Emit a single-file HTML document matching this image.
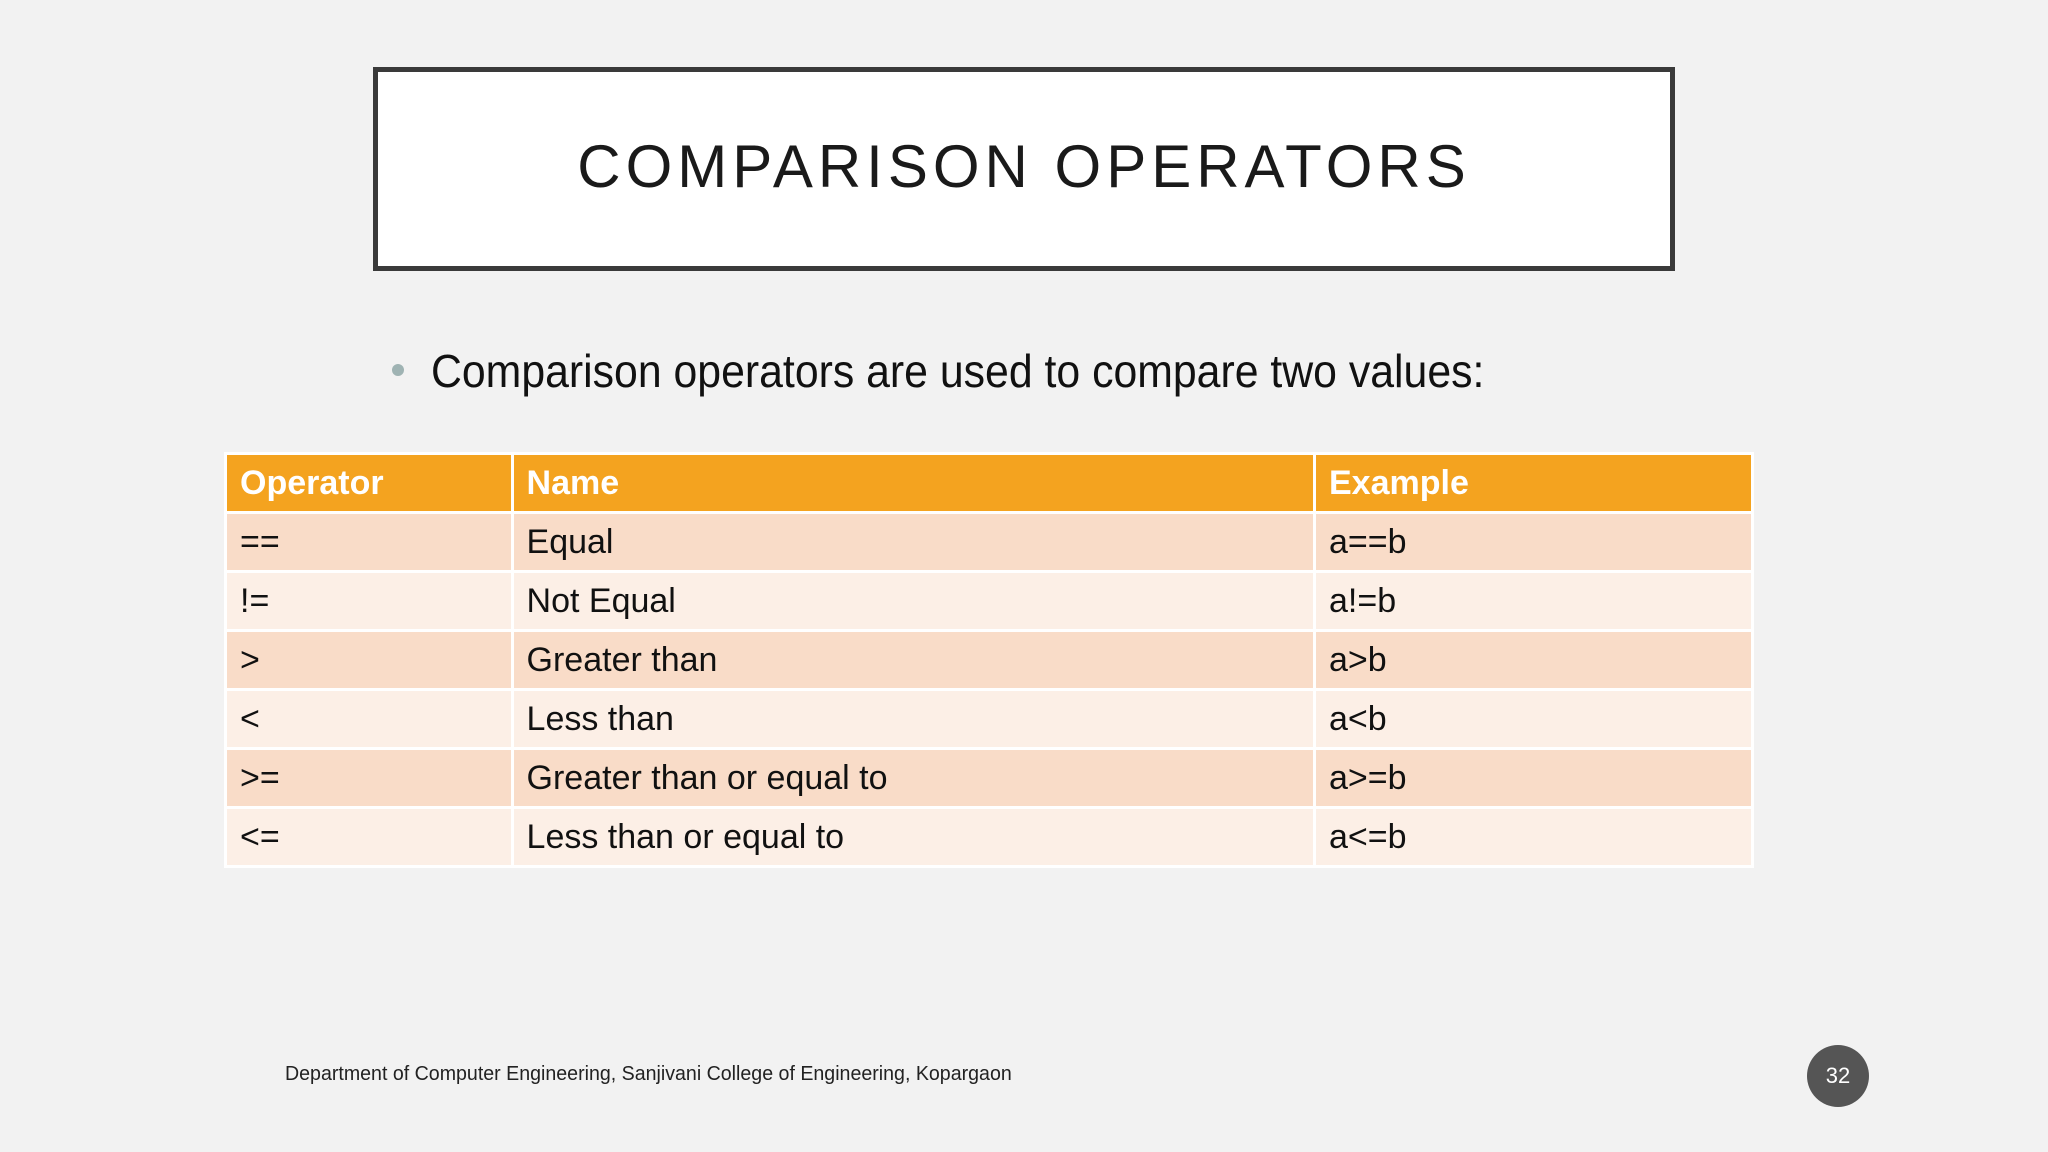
<!DOCTYPE html>
<html><head><meta charset="utf-8"><style>
body{margin:0;width:2048px;height:1152px;background:#f2f2f2;position:relative;overflow:hidden;font-family:"Liberation Sans",sans-serif;color:#111}
.abs{position:absolute}
#title-box{left:373px;top:67px;width:1292px;height:194px;border:5px solid #3a3a3a;background:#fff}
#title{left:373px;top:132px;width:1302px;text-align:center;font-size:60px;letter-spacing:5px;line-height:70px;color:#1a1a1a}
#bullet-dot{left:392px;top:364px;width:12px;height:12px;border-radius:50%;background:#9fb3b3}
#bullet{left:431px;top:343px;font-size:46px;line-height:56px;white-space:nowrap;transform-origin:0 0;transform:scaleX(0.93)}
table{position:absolute;left:224px;top:452px;border-collapse:collapse;width:1530px}
td,th{border:3px solid #fff;height:56px;padding:0 0 0 13px;text-align:left;font-size:34px;white-space:nowrap}
th{background:#f4a31f;color:#fff;font-weight:bold;height:56px}
tr.o td{background:#f9dcc8}
tr.e td{background:#fcefe6}
#footer{left:285px;top:1063px;font-size:20px;color:#222;white-space:nowrap;transform-origin:0 0;transform:scaleX(0.98)}
#page-num{left:1807px;top:1045px;width:62px;height:62px;border-radius:50%;background:#555;color:#fff;font-size:22px;line-height:62px;text-align:center}
</style></head><body>
<div class="abs" id="title-box"></div>
<div class="abs" id="title">COMPARISON OPERATORS</div>
<div class="abs" id="bullet-dot"></div>
<div class="abs" id="bullet">Comparison operators are used to compare two values:</div>
<table>
<colgroup><col style="width:287px"><col style="width:804px"><col style="width:439px"></colgroup>
<tr><th>Operator</th><th>Name</th><th>Example</th></tr>
<tr class="o"><td>==</td><td>Equal</td><td>a==b</td></tr>
<tr class="e"><td>!=</td><td>Not Equal</td><td>a!=b</td></tr>
<tr class="o"><td>&gt;</td><td>Greater than</td><td>a&gt;b</td></tr>
<tr class="e"><td>&lt;</td><td>Less than</td><td>a&lt;b</td></tr>
<tr class="o"><td>&gt;=</td><td>Greater than or equal to</td><td>a&gt;=b</td></tr>
<tr class="e"><td>&lt;=</td><td>Less than or equal to</td><td>a&lt;=b</td></tr>
</table>
<div class="abs" id="footer">Department of Computer Engineering, Sanjivani College of Engineering, Kopargaon</div>
<div class="abs" id="page-num">32</div>
</body></html>
